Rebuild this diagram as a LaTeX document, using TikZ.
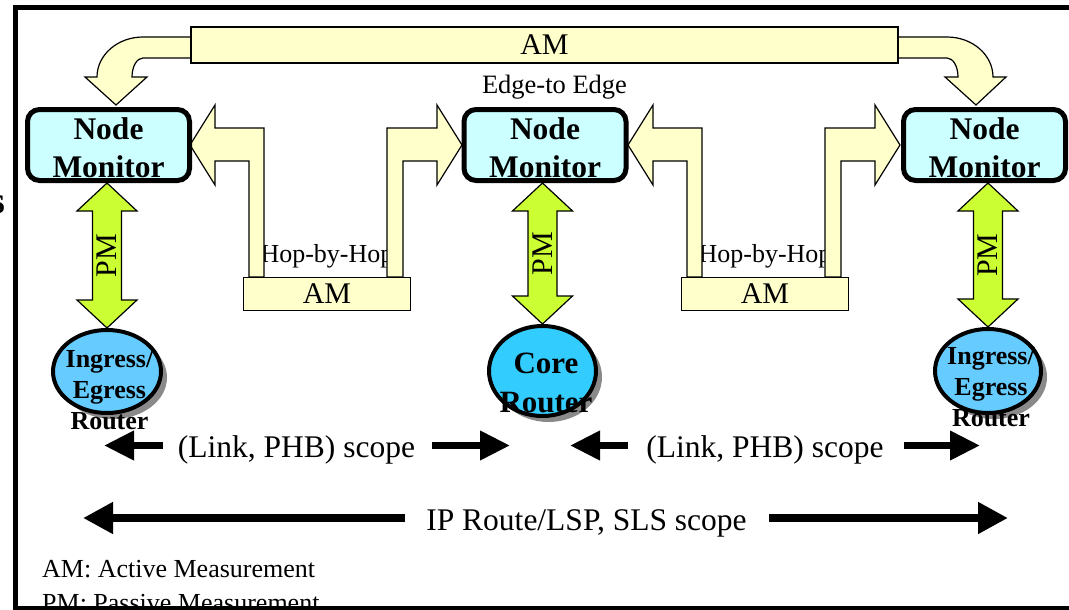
\documentclass[tikz,border=0pt]{standalone}
\usepackage{fontspec}
\setmainfont{Liberation Serif}
\usetikzlibrary{shapes.geometric,arrows.meta,calc,shadows}

\definecolor{amyellow}{HTML}{FFFFCC}
\definecolor{monitorcyan}{HTML}{CCFFFF}
\definecolor{pmgreen}{HTML}{CCFF33}
\definecolor{edgeblue}{HTML}{66CCFF}
\definecolor{coreblue}{HTML}{33CCFF}
\definecolor{shadowgray}{HTML}{8A8A8A}

\begin{document}
\begin{tikzpicture}[x=1pt,y=-1pt,
  amband/.style={fill=amyellow,draw=black,line width=1.2pt,line join=miter},
  ambox/.style={rectangle,fill=amyellow,draw=black,line width=1.2pt,inner sep=0pt,
    font=\fontsize{30}{30}\selectfont},
  monitor/.style={rectangle,draw=black,line width=5pt,fill=monitorcyan,rounded corners=12pt,
    minimum width=162pt,minimum height=71pt,inner sep=0pt},
  monitortext/.style={inner sep=0pt,align=center,font=\fontsize{31.5}{38}\selectfont\bfseries},
  router/.style={ellipse,draw=black,line width=4pt,inner sep=0pt,
    drop shadow={shadow xshift=6pt,shadow yshift=-6pt,opacity=1,fill=shadowgray}},
  routertext/.style={align=center,inner sep=0pt},
  pmshape/.style={fill=pmgreen,draw=black,line width=1.2pt,line join=miter},
  pmlabel/.style={rotate=90,inner sep=0pt,font=\fontsize{30}{30}\selectfont},
  hoptext/.style={inner sep=0pt,font=\fontsize{26}{26}\selectfont},
  plaintext/.style={inner sep=0pt},
  scopetext/.style={inner sep=0pt,anchor=base,font=\fontsize{31.5}{31.5}\selectfont},
  scopearrow/.style={line width=7pt,-{Triangle[length=30pt,width=28pt]}},
  longarrow/.style={line width=8pt,-{Triangle[length=30pt,width=30pt]}},
  frameline/.style={line width=5pt,line cap=rect}
]
\useasboundingbox (0,0) rectangle (1069,610);

% fragment of a word cut by the left edge
\node[plaintext,anchor=base east,font=\fontsize{38}{38}\selectfont\bfseries] (cut) at (5.5,213) {s};

% outer frame (left and top)
\draw[frameline] (15.5,612) -- (15.5,7.5) -- (1075,7.5);

% ---------- edge-to-edge active measurement ----------
\path[amband] (191,37) -- (143,37) .. controls (117.6,37) and (97,54.9) .. (97,77)
  -- (85,77) -- (116,105) -- (147,77) -- (132,77)
  .. controls (132,66.5) and (136.9,58) .. (143,58) -- (191,58) -- cycle;
\path[amband] (898,37) -- (947,37) .. controls (972.4,37) and (993,54.9) .. (993,77)
  -- (1006,77) -- (976,105) -- (945,77) -- (958,77)
  .. controls (958,66.5) and (953.1,58) .. (947,58) -- (898,58) -- cycle;
\node[ambox,minimum width=707pt,minimum height=36pt] (amTop) at (544.5,45) {AM};
\node[plaintext,anchor=base,font=\fontsize{26.5}{26.5}\selectfont] (e2e) at (554.5,93) {Edge-to Edge};

% ---------- hop-by-hop active measurement ----------
\foreach \dx/\n in {0/A,438/B}{
  \begin{scope}[shift={(\dx,0)}]
    \node[hoptext,anchor=base] (hop\n) at (327,262) {Hop-by-Hop};
    \path[amband] (190,145) -- (215,105) -- (215,128) -- (264,128) -- (264,277)
      -- (249,277) -- (249,161) -- (215,161) -- (215,185) -- cycle;
    \path[amband] (462,145) -- (437,105) -- (437,128) -- (387,128) -- (387,277)
      -- (403,277) -- (403,161) -- (437,161) -- (437,185) -- cycle;
    \node[ambox,minimum width=167pt,minimum height=33pt] (am\n) at (327,294) {AM};
  \end{scope}
}

% ---------- node monitors ----------
\foreach \n/\x in {nmL/108.5,nmC/545,nmR/984.5}{
  \node[monitor,label={[monitortext,yshift=-2.5pt]center:Node\\Monitor}] (\n) at (\x,145) {};
}

% ---------- routers ----------
\node[router,fill=edgeblue,minimum width=108pt,minimum height=83pt] (rL) at (107,371.5) {};
\node[router,fill=coreblue,minimum width=107pt,minimum height=90pt] (rC) at (542.5,371) {};
\node[router,fill=edgeblue,minimum width=106pt,minimum height=84pt] (rR) at (988,371) {};
\node[routertext,font=\fontsize{26}{31}\selectfont\bfseries] (tL) at (109.5,390) {Ingress/\\Egress\\Router};
\node[routertext,font=\fontsize{31}{39}\selectfont\bfseries] (tC) at (546,382.5) {Core\\Router};
\node[routertext,font=\fontsize{26}{31}\selectfont\bfseries] (tR) at (991,387) {Ingress/\\Egress\\Router};

% ---------- passive measurement double arrows ----------
\foreach \m/\r in {nmL/rL,nmC/rC,nmR/rR}{
  \path[pmshape] let \p1=(\m.south), \p2=(\r.north) in
    (\x2,\y1) -- (\x2+30pt,\y1-28pt) -- (\x2+14.5pt,\y1-28pt) -- (\x2+14.5pt,\y2+28pt)
    -- (\x2+30pt,\y2+28pt) -- (\x2,\y2) -- (\x2-30pt,\y2+28pt) -- (\x2-14.5pt,\y2+28pt)
    -- (\x2-14.5pt,\y1-28pt) -- (\x2-30pt,\y1-28pt) -- cycle;
  \node[pmlabel] (pm\r) at ($(\m.south -| \r.north)!0.5!(\r.north)$) {PM};
}

% ---------- scopes ----------
\node[scopetext] (lk1) at (296.5,457) {(Link, PHB) scope};
\node[scopetext] (lk2) at (765,457) {(Link, PHB) scope};
\node[scopetext] (ipr) at (586.5,530) {IP Route/LSP, SLS scope};

\coordinate (a1s) at (163,445.5); \coordinate (a1t) at (104,445.5);
\coordinate (a2s) at (432,445.5); \coordinate (a2t) at (510,445.5);
\coordinate (a3s) at (628,445.5); \coordinate (a3t) at (570,445.5);
\coordinate (a4s) at (904,445.5); \coordinate (a4t) at (980,445.5);
\coordinate (b1s) at (405,518);   \coordinate (b1t) at (83,518);
\coordinate (b2s) at (769,518);   \coordinate (b2t) at (1008,518);
\draw[scopearrow] (a1s) -- (a1t);
\draw[scopearrow] (a2s) -- (a2t);
\draw[scopearrow] (a3s) -- (a3t);
\draw[scopearrow] (a4s) -- (a4t);
\draw[longarrow] (b1s) -- (b1t);
\draw[longarrow] (b2s) -- (b2t);

% ---------- legend ----------
\node[plaintext,anchor=base west,font=\fontsize{26}{26}\selectfont] (legAM) at (42,577) {AM: Active Measurement};
\node[plaintext,anchor=base west,font=\fontsize{26}{26}\selectfont] (legPM) at (42,611.5) {PM: Passive Measurement};

% bottom edge of the frame
\draw[line width=4pt] (13,608) -- (1075,608);
\end{tikzpicture}
\end{document}
